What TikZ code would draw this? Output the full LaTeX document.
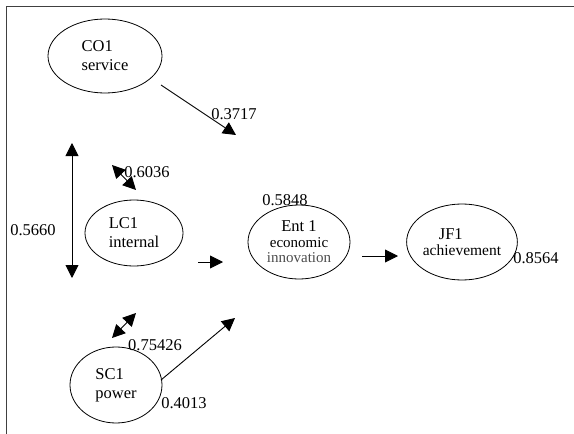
\documentclass[tikz,border=0pt]{standalone}
\usepackage{fontspec}
\setmainfont{Liberation Serif}
\usetikzlibrary{shapes, arrows, arrows.meta, positioning}

\begin{document}
\begin{tikzpicture}[x=1pt, y=-1pt, >={Triangle[length=13pt,width=13pt]}]
\tikzstyle{latent} = [ellipse, draw, line width=0.8pt, inner sep=0pt, font=\fontsize{16.5}{19}\selectfont]
\tikzstyle{arrow} = [->, line width=0.9pt]
\tikzstyle{both} = [<->, line width=0.9pt]
\tikzstyle{coef} = [inner sep=0pt, font=\fontsize{16.5}{19}\selectfont]

\useasboundingbox (0,0) rectangle (574,434);
\coordinate (frameb) at (6,434);
\coordinate (framec) at (6,6);
\coordinate (framer) at (574,6);
\draw[line width=1pt, black!75] (frameb) -- (framec) -- (framer);

% latent variables
\node[latent, minimum width=114, minimum height=74, align=left] (co1) at (105,56) {CO1\\service};
\node[latent, minimum width=98, minimum height=66, align=left] (lc1) at (134,233) {LC1\\internal};
\node[latent, minimum width=102, minimum height=74, align=center] (ent1) at (299,242)
  {Ent 1\\[-3pt]{\fontsize{15}{15}\selectfont economic}\\[-4pt]{\fontsize{15}{15}\selectfont\color{black!70} innovation}};
\node[latent, minimum width=101, minimum height=76, align=left] (jf1) at (462,242)
  {\hspace*{16pt}JF1\\[-3pt]{\fontsize{15.5}{15}\selectfont achievement}};
\node[latent, minimum width=92, minimum height=76, align=left] (sc1) at (116,385) {SC1\\power};

% free ends of the paths
\coordinate (costart) at (161,85);
\coordinate (cotip) at (236,135);
\coordinate (vtop) at (72,143);
\coordinate (vbot) at (72,278);
\coordinate (lctop) at (112,165);
\coordinate (lcbot) at (136,190);
\coordinate (lcstart) at (198,262);
\coordinate (lctip) at (223,262);
\coordinate (entstart) at (362,256);
\coordinate (enttip) at (398,256);
\coordinate (scstart) at (161,380);
\coordinate (sctip) at (235,318);
\coordinate (sclow) at (112,338);
\coordinate (schigh) at (136,313);

\draw[arrow] (costart) -- (cotip);
\draw[both] (vtop) -- (vbot);
\draw[both] (lctop) -- (lcbot);
\draw[arrow] (lcstart) -- (lctip);
\draw[arrow] (entstart) -- (enttip);
\draw[arrow] (scstart) -- (sctip);
\draw[both] (sclow) -- (schigh);

% path coefficients
\node[coef] (c3717) at (234,114) {0.3717};
\node[coef] (c5660) at (33,230) {0.5660};
\node[coef] (c6036) at (147,172) {0.6036};
\node[coef] (c5848) at (285,200) {0.5848};
\node[coef] (c8564) at (536,258) {0.8564};
\node[coef] (c75426) at (155,345) {0.75426};
\node[coef] (c4013) at (184,403) {0.4013};
\end{tikzpicture}
\end{document}
